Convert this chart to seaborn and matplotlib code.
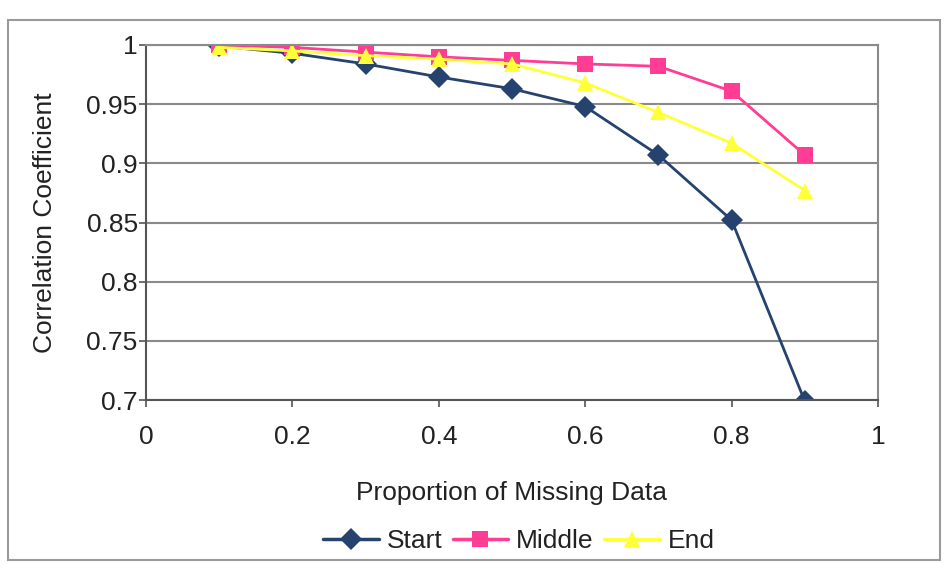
import matplotlib
matplotlib.use("Agg")
import matplotlib.pyplot as plt
import seaborn as sns
import pandas as pd
from matplotlib.patches import Rectangle
from matplotlib.lines import Line2D

# Data
proportion = [0.1, 0.2, 0.3, 0.4, 0.5, 0.6, 0.7, 0.8, 0.9]
start = [0.999, 0.993, 0.984, 0.973, 0.963, 0.948, 0.907, 0.852, 0.699]
middle = [1.000, 0.998, 0.994, 0.990, 0.987, 0.984, 0.982, 0.961, 0.907]
end = [0.998, 0.995, 0.991, 0.988, 0.984, 0.968, 0.943, 0.917, 0.877]
series_names = ["Start", "Middle", "End"]
x_ticks = [0, 0.2, 0.4, 0.6, 0.8, 1]
x_tick_labels = ["0", "0.2", "0.4", "0.6", "0.8", "1"]
y_ticks = [0.7, 0.75, 0.8, 0.85, 0.9, 0.95, 1.0]
y_tick_labels = ["0.7", "0.75", "0.8", "0.85", "0.9", "0.95", "1"]

df = pd.DataFrame({
    "x": proportion * 3,
    "y": start + middle + end,
    "series": [s for s in series_names for _ in proportion],
})

sns.set_theme(style="white")
plt.rcParams["font.family"] = ["Liberation Sans", "DejaVu Sans"]

fig = plt.figure(figsize=(9.45, 5.64), dpi=100)
ax = fig.add_axes([146 / 945, 1 - 400 / 564, (878 - 146) / 945, (400 - 45) / 564])

palette = {"Start": "#26426e", "Middle": "#ff3d94", "End": "#ffff3a"}
markers = {"Start": "D", "Middle": "s", "End": "^"}

sns.lineplot(data=df, x="x", y="y", hue="series", style="series",
             palette=palette, markers=markers, dashes=False, ax=ax,
             linewidth=2.0, markersize=11, markeredgewidth=0, legend=False,
             hue_order=series_names, style_order=series_names)

ax.set_xlim(0, 1)
ax.set_ylim(0.7, 1.0)
ax.set_xticks(x_ticks)
ax.set_xticklabels(x_tick_labels, fontsize=19)
ax.set_yticks(y_ticks)
ax.set_yticklabels(y_tick_labels, fontsize=19)
ax.tick_params(axis="both", direction="out", length=5, width=1.2, color="#555555",
               bottom=True, left=True, labelcolor="#222222")
ax.tick_params(axis="y", pad=1)
ax.tick_params(axis="x", pad=13)
ax.grid(axis="y", color="#8a8a8a", linewidth=1.5)
ax.grid(axis="x", visible=False)
ax.set_axisbelow(True)
for side in ["top", "right"]:
    ax.spines[side].set_color("#8a8a8a")
    ax.spines[side].set_linewidth(1.5)
for side in ["left", "bottom"]:
    ax.spines[side].set_color("#555555")
    ax.spines[side].set_linewidth(1.5)

ax.set_xlabel("Proportion of Missing Data", fontsize=19, color="#222222", labelpad=23)
ax.set_ylabel("Correlation Coefficient", fontsize=19, color="#222222", labelpad=21)

# Legend
handles = [Line2D([0], [0], color=palette[s], marker=markers[s], markersize=11,
                  markeredgewidth=0, linewidth=2.5) for s in series_names]
fig.legend(handles, series_names, loc="center", bbox_to_anchor=(0.549, 1 - 541 / 564),
           ncol=3, frameon=False, fontsize=19, handlelength=2.1, columnspacing=0.4,
           handletextpad=0.3, labelcolor="#222222")

# Outer chart border
fig.patches.append(Rectangle((8 / 945, 1 - 560 / 564), (940 - 8) / 945, (560 - 20) / 564,
                             transform=fig.transFigure, fill=False,
                             edgecolor="#9a9a9a", linewidth=1.5))

fig.savefig("out.png", dpi=100)
